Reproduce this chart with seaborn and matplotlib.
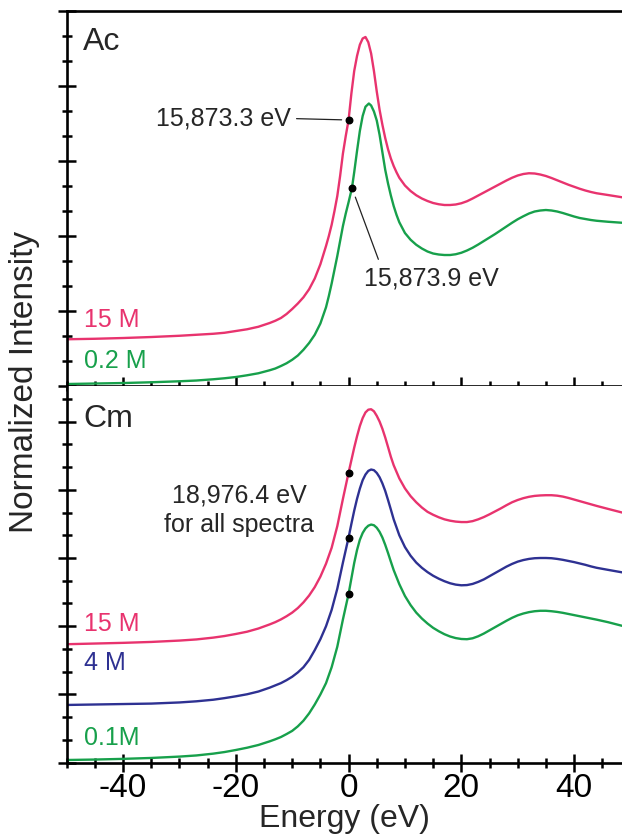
import numpy as np
import pandas as pd
import matplotlib
matplotlib.use("Agg")
import matplotlib.pyplot as plt
from matplotlib.ticker import MultipleLocator
import seaborn as sns

# Ac L3-edge spectra (energy relative to edge, eV)
ac_energy_15M = [-50, -45, -40, -35, -30, -27, -24, -22, -20, -18, -16, -14, -13, -12, -11, -10, -9, -8, -7, -6,
                 -5, -4, -3.5, -3, -2.5, -2, -1.5, -1, -0.5, 0, 0.5, 1, 1.5, 2, 2.5, 3, 3.5, 4, 4.5, 5,
                 5.5, 6, 6.5, 7, 7.5, 8, 8.5, 9, 10, 11, 12, 13, 14, 15, 16, 17, 18, 19, 20, 21,
                 22, 23, 24, 25, 26, 27, 28, 29, 30, 31, 32, 33, 34, 35, 36, 37, 38, 39, 40, 41,
                 42, 43, 44, 46, 48.5]
ac_15M = [1.87, 1.89, 1.92, 1.96, 2.01, 2.05, 2.09, 2.13, 2.2, 2.27, 2.37, 2.52, 2.61, 2.72, 2.88, 3.08, 3.3, 3.55, 3.87, 4.3,
          4.87, 5.6, 6.0, 6.45, 7.0, 7.6, 8.4, 9.3, 10.0, 10.64, 11.7, 12.6, 13.2, 13.65, 13.9, 13.96, 13.75, 13.3, 12.6, 11.78,
          11.05, 10.45, 9.92, 9.47, 9.1, 8.8, 8.55, 8.33, 8.02, 7.8, 7.63, 7.5, 7.4, 7.32, 7.27, 7.24, 7.24, 7.26, 7.31, 7.39,
          7.5, 7.62, 7.74, 7.86, 7.98, 8.1, 8.22, 8.33, 8.42, 8.48, 8.51, 8.5, 8.46, 8.4, 8.32, 8.23, 8.14, 8.05, 7.97, 7.89,
          7.82, 7.76, 7.71, 7.64, 7.55]

ac_energy_02M = [-50, -45, -40, -35, -30, -27, -24, -22, -20, -18, -16, -14, -13, -12, -11, -10, -9, -8, -7, -6,
                 -5, -4, -3.5, -3, -2.5, -2, -1.5, -1, -0.5, 0, 0.6, 1, 1.5, 2, 2.5, 3, 3.6, 4, 4.5, 5,
                 5.5, 6, 6.5, 7, 7.5, 8, 8.5, 9, 10, 11, 12, 13, 14, 15, 16, 17, 18, 19, 20, 21,
                 22, 23, 24, 25, 26, 27, 28, 29, 30, 31, 32, 33, 34, 35, 36, 37, 38, 39, 40, 41,
                 42, 43, 44, 46, 48.5]
ac_02M = [0.08, 0.1, 0.12, 0.15, 0.19, 0.22, 0.27, 0.31, 0.36, 0.43, 0.51, 0.63, 0.7, 0.8, 0.91, 1.05, 1.22, 1.45, 1.72, 2.05,
          2.5, 3.15, 3.6, 4.1, 4.65, 5.2, 5.8, 6.4, 6.9, 7.35, 7.92, 8.55, 9.4, 10.2, 10.8, 11.17, 11.3, 11.22, 10.98, 10.62,
          10.05, 9.35, 8.65, 8.1, 7.62, 7.2, 6.85, 6.55, 6.12, 5.85, 5.65, 5.5, 5.38, 5.3, 5.26, 5.24, 5.24, 5.27, 5.33, 5.42,
          5.53, 5.66, 5.8, 5.94, 6.08, 6.23, 6.38, 6.53, 6.67, 6.79, 6.9, 6.98, 7.02, 7.04, 7.02, 6.98, 6.92, 6.85, 6.78, 6.72,
          6.68, 6.64, 6.61, 6.57, 6.53]

# Cm L3-edge spectra
cm_energy = [-50, -45, -40, -35, -30, -27, -24, -22, -20, -18, -16, -14, -13, -12, -11, -10, -9, -8, -7, -6,
             -5, -4, -3, -2, -1, 0, 0.5, 1, 1.5, 2, 2.5, 3, 3.5, 4, 4.5, 5, 5.5, 6, 6.5, 7,
             7.5, 8, 9, 10, 11, 12, 13, 14, 15, 16, 17, 18, 19, 20, 21, 22, 23, 24, 25, 26,
             27, 28, 29, 30, 31, 32, 33, 34, 35, 36, 37, 38, 39, 40, 41, 42, 43, 44, 46, 48.5]
cm_15M = [5.21, 5.24, 5.27, 5.31, 5.37, 5.42, 5.5, 5.57, 5.66, 5.76, 5.9, 6.08, 6.18, 6.3, 6.44, 6.6, 6.8, 7.05, 7.35, 7.72,
          8.18, 8.75, 9.45, 10.4, 11.6, 12.75, 13.3, 13.85, 14.35, 14.8, 15.15, 15.4, 15.52, 15.54, 15.45, 15.25, 15.0, 14.68, 14.3, 13.88,
          13.45, 13.08, 12.5, 12.06, 11.72, 11.45, 11.22, 11.03, 10.9, 10.79, 10.7, 10.64, 10.6, 10.58, 10.58, 10.62, 10.7, 10.8, 10.92, 11.05,
          11.18, 11.32, 11.45, 11.55, 11.63, 11.69, 11.73, 11.75, 11.76, 11.76, 11.74, 11.7, 11.64, 11.57, 11.5, 11.43, 11.36, 11.29, 11.16, 11.0]
cm_4M = [2.54, 2.56, 2.58, 2.6, 2.65, 2.7, 2.77, 2.84, 2.92, 3.01, 3.13, 3.3, 3.4, 3.5, 3.63, 3.78, 3.97, 4.2, 4.52, 4.95,
         5.43, 6.0, 6.72, 7.65, 8.8, 9.9, 10.5, 11.08, 11.6, 12.05, 12.42, 12.67, 12.83, 12.89, 12.86, 12.74, 12.55, 12.28, 11.95, 11.55,
         11.13, 10.7, 10.0, 9.48, 9.1, 8.8, 8.57, 8.38, 8.22, 8.09, 7.98, 7.89, 7.83, 7.8, 7.81, 7.86, 7.95, 8.06, 8.2, 8.34,
         8.48, 8.62, 8.74, 8.84, 8.91, 8.96, 8.99, 9.0, 9.0, 8.99, 8.96, 8.92, 8.87, 8.82, 8.76, 8.7, 8.63, 8.57, 8.48, 8.37]
cm_01M = [0.12, 0.14, 0.17, 0.21, 0.27, 0.32, 0.4, 0.47, 0.56, 0.66, 0.78, 0.94, 1.03, 1.13, 1.26, 1.4, 1.6, 1.85, 2.17, 2.56,
          3.0, 3.5, 4.2, 5.1, 6.3, 7.42, 8.1, 8.78, 9.35, 9.8, 10.1, 10.3, 10.42, 10.47, 10.44, 10.33, 10.15, 9.9, 9.58, 9.22,
          8.84, 8.47, 7.85, 7.33, 6.93, 6.6, 6.34, 6.12, 5.93, 5.78, 5.65, 5.55, 5.48, 5.44, 5.43, 5.47, 5.56, 5.68, 5.82, 5.96,
          6.1, 6.24, 6.37, 6.48, 6.56, 6.62, 6.66, 6.68, 6.68, 6.66, 6.63, 6.59, 6.54, 6.49, 6.44, 6.39, 6.34, 6.29, 6.18, 6.02]

# edge positions (black dots)
ac_edge_E = [0, 0.6]
ac_edge_y = [10.64, 7.92]
cm_edge_E = [0, 0, 0]
cm_edge_y = [12.75, 9.9, 7.42]

pink = '#E8336E'
navy = '#2E3192'
green = '#17A04B'

sns.set_theme(style='ticks')
plt.rcParams['font.family'] = ['Liberation Sans', 'DejaVu Sans']

fig = plt.figure(figsize=(6.22, 8.39), dpi=100)
ax_top = fig.add_axes([0.1072, 0.5399, 0.8928, 0.447])
ax_bot = fig.add_axes([0.1072, 0.0909, 0.8928, 0.449])

lw = 1.7
sns.lineplot(x=ac_energy_15M, y=ac_15M, ax=ax_top, color=pink, lw=lw, sort=False, estimator=None)
sns.lineplot(x=ac_energy_02M, y=ac_02M, ax=ax_top, color=green, lw=lw, sort=False, estimator=None)
ax_top.scatter(ac_edge_E, ac_edge_y, s=22, color='black', zorder=5)

sns.lineplot(x=cm_energy, y=cm_15M, ax=ax_bot, color=pink, lw=lw, sort=False, estimator=None)
sns.lineplot(x=cm_energy, y=cm_4M, ax=ax_bot, color=navy, lw=lw, sort=False, estimator=None)
sns.lineplot(x=cm_energy, y=cm_01M, ax=ax_bot, color=green, lw=lw, sort=False, estimator=None)
ax_bot.scatter(cm_edge_E, cm_edge_y, s=22, color='black', zorder=5)

for ax in (ax_top, ax_bot):
    ax.set_xlim(-50, 48.5)
    ax.xaxis.set_major_locator(MultipleLocator(20))
    ax.xaxis.set_minor_locator(MultipleLocator(5))
    ax.yaxis.set_major_locator(MultipleLocator(3))
    ax.yaxis.set_minor_locator(MultipleLocator(1))
    ax.tick_params(which='both', direction='inout', width=1.8, colors='black',
                   top=False, right=False, labelleft=False)
    ax.tick_params(which='major', length=13)
    ax.tick_params(which='minor', length=7.5)
    ax.spines['right'].set_visible(False)
    for s in ax.spines.values():
        s.set_linewidth(1.9)
        s.set_color('black')
    ax.set_xlabel('')
    ax.set_ylabel('')

ax_top.set_ylim(0, 15)
ax_bot.set_ylim(0, 16.56)
ax_top.tick_params(labelbottom=False)
ax_bot.spines['top'].set_visible(False)
ax_bot.tick_params(axis='x', labelsize=24, pad=1)
ax_bot.set_xticks([-40, -20, 0, 20, 40])
ax_bot.set_xticklabels(['-40', '-20', '0', '20', '40'])
ax_bot.set_xlabel('Energy (eV)', fontsize=23, labelpad=0)
fig.text(0.04, 0.545, 'Normalized Intensity', rotation=90, ha='center', va='center', fontsize=24)

# panel and concentration labels
ax_top.text(-47.1, 13.44, 'Ac', fontsize=23, va='baseline')
ax_bot.text(-47.0, 14.74, 'Cm', fontsize=23, va='baseline')
ax_top.text(-47, 2.36, '15 M', fontsize=18, color=pink, va='baseline')
ax_top.text(-47, 0.72, '0.2 M', fontsize=18, color=green, va='baseline')
ax_bot.text(-47, 5.77, '15 M', fontsize=18, color=pink, va='baseline')
ax_bot.text(-47, 4.08, '4 M', fontsize=18, color=navy, va='baseline')
ax_bot.text(-47, 0.78, '0.1M', fontsize=18, color=green, va='baseline')

# edge annotations
ax_top.annotate('15,873.3 eV', xy=(ac_edge_E[0], ac_edge_y[0]), xytext=(-10.3, 10.7),
                ha='right', va='center', fontsize=18,
                arrowprops=dict(arrowstyle='-', lw=0.9, color='#222222', shrinkA=2, shrinkB=5,
                                relpos=(1.0, 0.5)))
ax_top.annotate('15,873.9 eV', xy=(ac_edge_E[1], ac_edge_y[1]), xytext=(2.65, 4.3),
                ha='left', va='center', fontsize=18,
                arrowprops=dict(arrowstyle='-', lw=0.9, color='#222222', shrinkA=3, shrinkB=7,
                                relpos=(0.13, 1.0)))
ax_bot.text(-19.4, 11.1, '18,976.4 eV\nfor all spectra', ha='center', va='center',
            fontsize=18, linespacing=1.25)

fig.savefig('out.png', dpi=100)
